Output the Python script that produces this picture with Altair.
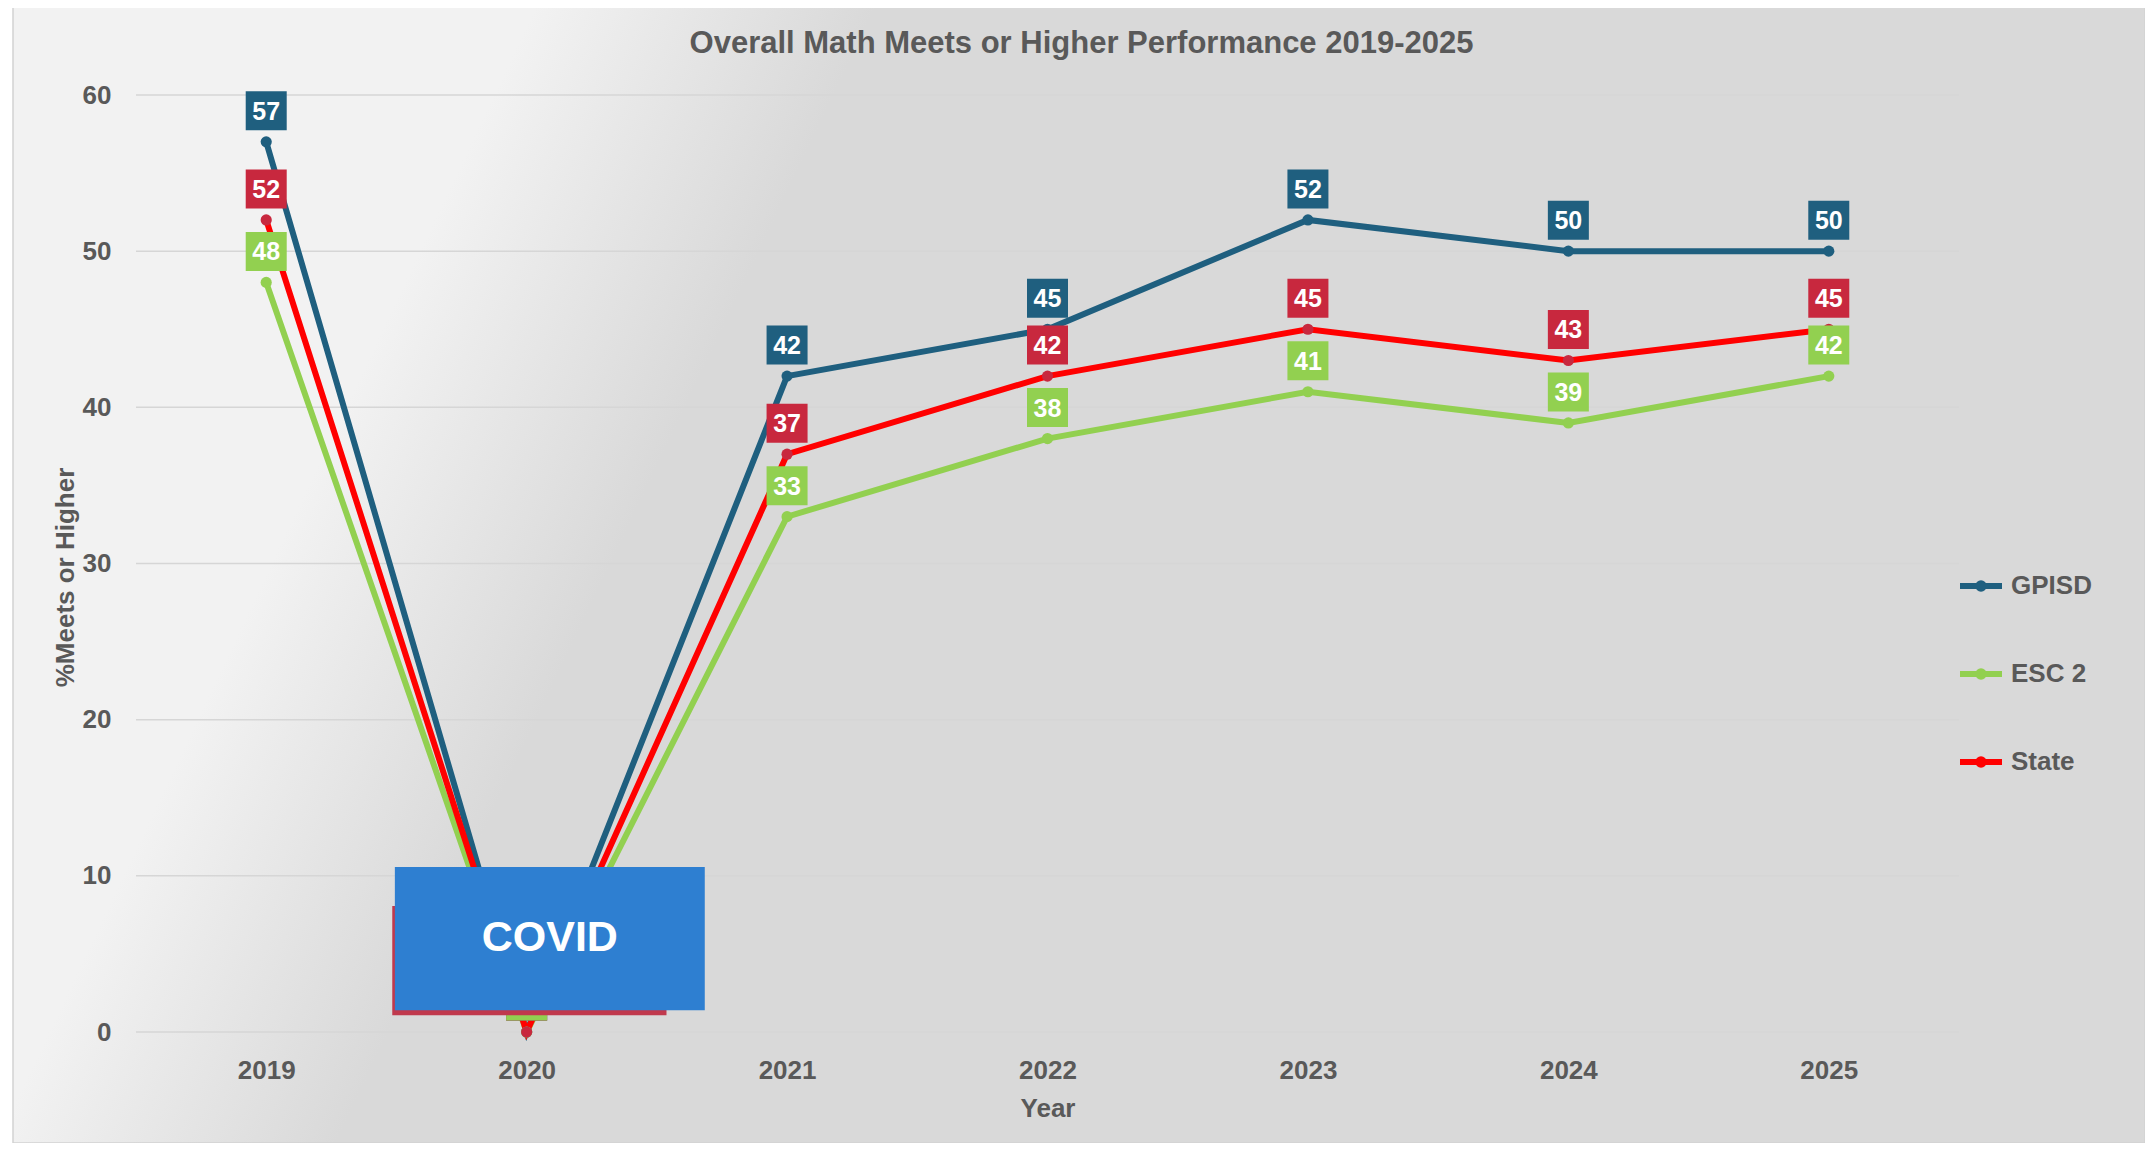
import altair as alt
import pandas as pd

# ---------------- data ----------------
years = [2019, 2020, 2021, 2022, 2023, 2024, 2025]
series_names = ["GPISD", "ESC 2", "State"]
gpisd = [57, 0, 42, 45, 52, 50, 50]
esc2 = [48, 0, 33, 38, 41, 39, 42]
state = [52, 0, 37, 42, 45, 43, 45]
y_ticks = [0, 10, 20, 30, 40, 50, 60]

title_text = "Overall Math Meets or Higher Performance 2019-2025"
x_title = "Year"
y_title = "%Meets or Higher"

covid_text = "COVID"
covid_box_x = [2019.494, 2020.684]
covid_box_y = [1.39, 10.57]
covid_shadow_x = [2019.484, 2020.537]
covid_shadow_y = [1.07, 8.07]
covid_label_pos = [2020.089, 6.0]

# ---------------- styles ----------------
line_colors = ["#1f5f7f", "#92d050", "#ff0000"]
dot_colors = {"GPISD": "#1f5f7f", "ESC 2": "#92d050", "State": "#c8283e"}
box_colors = {"GPISD": "#1f5f7f", "ESC 2": "#92d050", "State": "#c8283e"}
FONT = "Liberation Sans, Arial, sans-serif"
GRAY = "#595959"

values_by_series = {"GPISD": gpisd, "ESC 2": esc2, "State": state}
rows = []
for s in series_names:
    for yr, v in zip(years, values_by_series[s]):
        rows.append({"year": yr, "value": v, "series": s,
                     "dot": dot_colors[s], "box": box_colors[s], "label": str(v)})
df = pd.DataFrame(rows)

label_order = ["GPISD", "State", "ESC 2"]
df_labels = pd.concat([df[df.series == s] for s in label_order], ignore_index=True)

W, H = 1823, 937

x_scale = alt.Scale(domain=[2018.5, 2025.5], nice=False, zero=False)
y_scale = alt.Scale(domain=[0, 60], nice=False, zero=True)

x_axis = alt.Axis(title=x_title, values=years, format="d", grid=False, domain=False,
                  ticks=False, tickSize=0, labelPadding=25, labelFlush=False,
                  labelFont=FONT, labelFontSize=26, labelFontWeight="bold", labelColor=GRAY,
                  titleFont=FONT, titleFontSize=26, titleFontWeight="bold", titleColor=GRAY,
                  titleY=76, titleBaseline="middle", zindex=1)
y_axis = alt.Axis(title=y_title, values=y_ticks, grid=False, domain=False,
                  ticks=False, tickSize=0, labelPadding=25,
                  labelFont=FONT, labelFontSize=26, labelFontWeight="bold", labelColor=GRAY,
                  titleFont=FONT, titleFontSize=26, titleFontWeight="bold", titleColor=GRAY,
                  titleX=-71, titleY=482, titleAngle=270, titleAlign="center",
                  titleBaseline="middle", zindex=1)

X = alt.X("year:Q", scale=x_scale, axis=x_axis)
Y = alt.Y("value:Q", scale=y_scale, axis=y_axis)

# background gradient panel
grad = alt.Gradient(
    gradient="linear",
    stops=[alt.GradientStop(offset=0, color="#f2f2f2"),
           alt.GradientStop(offset=1, color="#d9d9d9")],
    x1=0.250, y1=-0.019, x2=0.400, y2=0.019,
)
bg = alt.Chart(pd.DataFrame({"a": [0]})).mark_rect(
    fill=grad, stroke="#d2d2d2", strokeWidth=1.5
).encode(x=alt.value(-123), x2=alt.value(2009), y=alt.value(-89), y2=alt.value(1048))

grid = alt.Chart(pd.DataFrame({"value": y_ticks})).mark_rule(
    color="#d6d6d6", strokeWidth=1.5
).encode(y=Y, x=alt.value(0), x2=alt.value(W))

sym_path = "M-1,0L1,0M-0.13,0A0.13,0.13,0,1,1,0.13,0A0.13,0.13,0,1,1,-0.13,0"
lines = alt.Chart(df).mark_line(strokeWidth=6).encode(
    x=X, y=Y,
    color=alt.Color("series:N",
                    scale=alt.Scale(domain=series_names, range=line_colors),
                    sort=series_names,
                    legend=alt.Legend(title=None, orient="none", legendX=1821, legendY=467,
                                      direction="vertical", symbolType=sym_path,
                                      symbolSize=1764, symbolStrokeWidth=6,
                                      labelFont=FONT, labelFontSize=26,
                                      labelFontWeight="bold", labelColor=GRAY,
                                      labelOffset=6, rowPadding=49, padding=0)),
)

points = alt.Chart(df).mark_point(filled=True, size=125, opacity=1).encode(
    x=X, y=Y, fill=alt.Fill("dot:N", scale=None)
)

box_path = "M-1,-0.951L1,-0.951L1,0.951L-1,0.951Z"
boxes = alt.Chart(df_labels).mark_point(
    shape=box_path, filled=True, size=1681, opacity=1, strokeWidth=0, yOffset=-31
).encode(x=X, y=Y, fill=alt.Fill("box:N", scale=None))

texts = alt.Chart(df_labels).mark_text(
    font=FONT, fontSize=25, fontWeight="bold", color="white",
    align="center", baseline="middle", yOffset=-30
).encode(x=X, y=Y, text="label:N")

covid_shadow = alt.Chart(pd.DataFrame({
    "year": [covid_shadow_x[0]], "x1": [covid_shadow_x[1]],
    "value": [covid_shadow_y[0]], "y1": [covid_shadow_y[1]]})).mark_rect(
    color="#c0394d", opacity=1
).encode(x=X, x2="x1:Q", y=Y, y2="y1:Q")

covid_box = alt.Chart(pd.DataFrame({
    "year": [covid_box_x[0]], "x1": [covid_box_x[1]],
    "value": [covid_box_y[0]], "y1": [covid_box_y[1]]})).mark_rect(
    color="#2e7fd1", opacity=1
).encode(x=X, x2="x1:Q", y=Y, y2="y1:Q")

covid_label = alt.Chart(pd.DataFrame({
    "year": [covid_label_pos[0]], "value": [covid_label_pos[1]], "t": [covid_text]})).mark_text(
    font=FONT, fontSize=43, fontWeight="bold", color="white",
    align="center", baseline="middle"
).encode(x=X, y=Y, text="t:N")

chart = alt.layer(
    bg, grid, lines, points, boxes, texts, covid_shadow, covid_box, covid_label
).properties(
    width=W, height=H,
    title=alt.TitleParams(text=title_text, font=FONT, fontSize=31, fontWeight="bold",
                          color=GRAY, anchor="middle", frame="group", dx=34, offset=0,
                          dy=55, zindex=1),
    autosize=alt.AutoSizeParams(type="none"),
    padding={"left": 128, "top": 87, "right": 186, "bottom": 111},
    background="white",
).configure_view(stroke=None)

chart.save("out.html", embed_options={"renderer": "svg", "actions": False})
